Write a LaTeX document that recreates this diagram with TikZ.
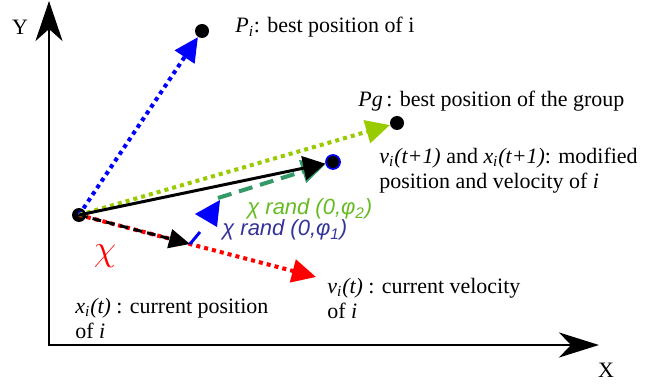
\documentclass[tikz,border=0pt]{standalone}
\usepackage{fontspec}
\setmainfont{Liberation Serif}
\setsansfont{Liberation Sans}
\usepackage{tikz}
\usetikzlibrary{arrows.meta}
\definecolor{ygreen}{RGB}{153,204,0}
\definecolor{sgreen}{RGB}{51,153,102}
\definecolor{lgreen}{RGB}{102,187,34}
\definecolor{dblue}{RGB}{51,51,153}
\tikzset{every node/.append style={font=\fontsize{12.5}{14.2}\selectfont}}
\tikzset{
  pdot/.style={circle, fill=black, inner sep=0pt, minimum size=0.28cm},
  dotline/.style={line width=2.3pt, dash pattern=on 2.3pt off 2.3pt},
  tri/.style={-{Triangle[length=0.48cm, width=0.46cm]}},
  lbl/.style={anchor=base west, inner sep=0pt, align=left},
  sflbl/.style={lbl, font=\fontsize{12.5}{14.2}\selectfont\sffamily\itshape},
}

\begin{document}
\begin{tikzpicture}
    \useasboundingbox (0,0) rectangle (13.06,7.68);
    % axes
    \coordinate (orig) at (0.98,0.78);
    \coordinate (ytop) at (0.98,7.66);
    \coordinate (xend) at (11.98,0.78);
    \draw[line width=1.6pt, {Stealth[length=0.8cm, width=0.54cm, inset=0.24cm]}-{Stealth[length=0.8cm, width=0.5cm, inset=0.24cm]}] (ytop) |- (xend);
    \node at (0.40,7.14) {Y};
    \node at (12.12,0.28) {X};
    % particle i, its best, the group best, the new position
    \node[pdot] (xi) at (1.58,3.38) {};
    \node[pdot] (pi) at (4.04,7.06) {};
    \node[pdot] (pg) at (7.94,5.22) {};
    \node[pdot, draw=blue, line width=1pt] (xnew) at (6.66,4.44) {};
    \coordinate (vtip) at (6.32,2.14);
    \coordinate (chiv) at (3.80,2.80);
    \coordinate (bend) at (4.00,3.04);
    \coordinate (gstart) at (4.36,3.72);
    % velocity and its weighted part
    \draw[red, dotline, tri] (xi.center) -- (vtip);
    \draw[line width=1.7pt, dash pattern=on 5pt off 3pt, -{Triangle[length=0.42cm, width=0.38cm]}] (xi.center) -- (chiv);
    % pull towards P_i
    \draw[blue, line width=1.7pt] (chiv) -- (bend);
    \fill[blue] (3.90,3.40) -- (4.40,3.68) -- (4.34,3.14) -- cycle;
    % pull towards Pg
    \draw[sgreen, line width=2.3pt, dash pattern=on 8pt off 4.5pt, tri] (gstart) -- (xnew);
    \draw[blue, dotline, tri] (xi.center) -- (pi);
    \draw[ygreen, dotline, tri] (xi.center) -- (pg);
    \draw[line width=1.7pt, -{Triangle[length=0.44cm, width=0.48cm]}] (xi.center) -- (xnew);
    % labels (base of a two-line label is its last line)
    \node[lbl] at (4.70,7.02) {\textit{P\textsubscript{i}}: best position of i};
    \node[lbl] at (7.16,5.54) {\textit{Pg}\,: best position of the group};
    \node[lbl] at (7.58,3.91) {\textit{v\textsubscript{i}(t+1)} and \textit{x\textsubscript{i}(t+1)}: modified\\position and velocity of \textit{i}};
    \node[sflbl, lgreen] at (4.94,3.38) {χ rand (0,φ\textsubscript{2})};
    \node[sflbl, dblue] at (4.44,2.96) {χ rand (0,φ\textsubscript{1})};
    \node[red, font=\fontsize{21}{24}\selectfont] at (2.10,2.56) {$\chi$};
    \node[lbl] at (1.50,0.91) {\textit{x\textsubscript{i}(t)} : current position\\of \textit{i}};
    \node[lbl] at (6.54,1.31) {\textit{v\textsubscript{i}(t)} : current velocity\\of \textit{i}};
\end{tikzpicture}
\end{document}
